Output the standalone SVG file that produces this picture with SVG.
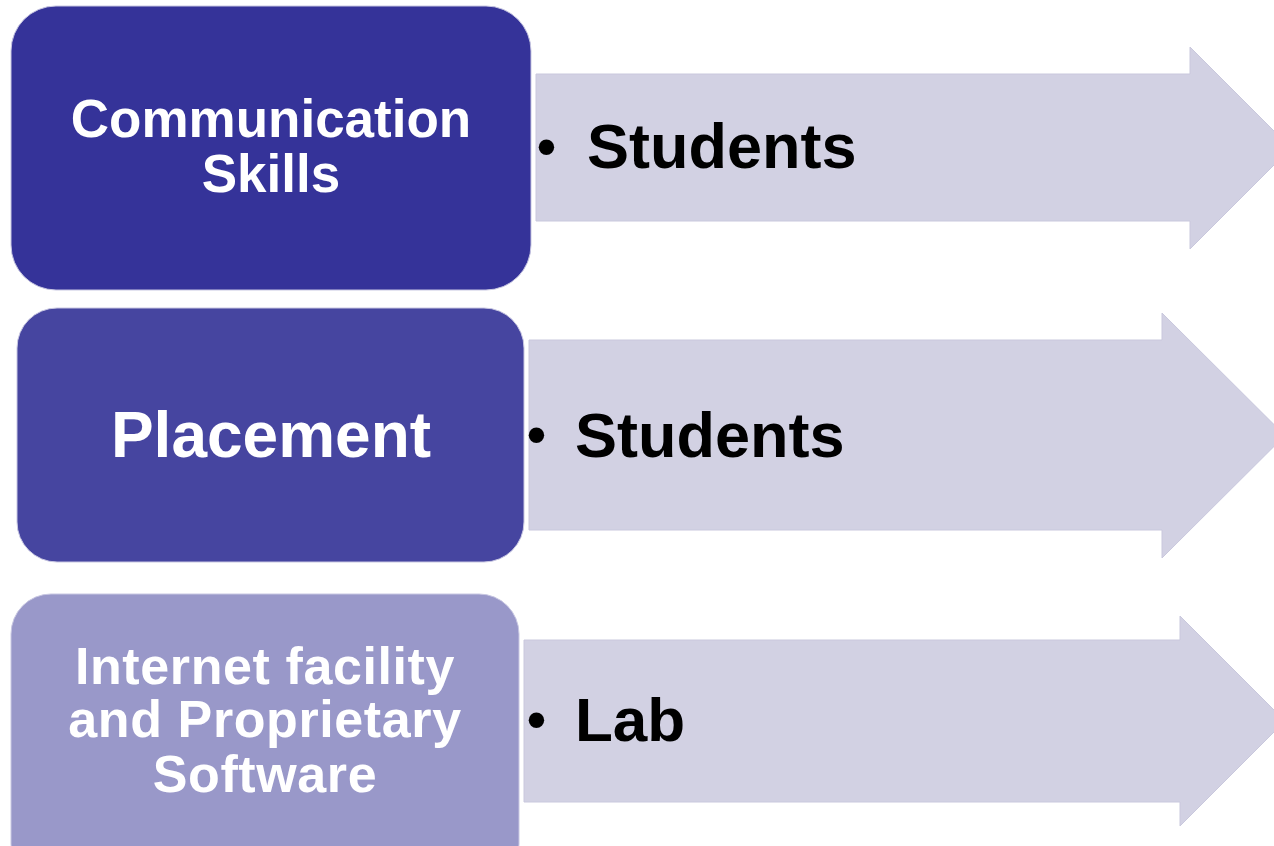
<svg xmlns="http://www.w3.org/2000/svg" width="1274" height="846" viewBox="0 0 1274 846">
<style>
.arrow{fill:#d2d1e3;stroke:#c9c8dd;stroke-width:1}
.box{stroke:#c8c7e2;stroke-width:1}
.lbl{font-family:"Liberation Sans",Arial,sans-serif;font-weight:bold;fill:#ffffff;text-anchor:middle}
.item{font-family:"Liberation Sans",Arial,sans-serif;font-weight:bold;fill:#000000}
.bul{font-family:"Liberation Sans",Arial,sans-serif;font-weight:bold;fill:#000000;font-size:54px}
</style>
<rect width="1274" height="846" fill="#ffffff"/>
<g id="connectors">
<path class="arrow" d="M536,74 H1190 V47 L1291,148 L1190,249 V221 H536 Z"/>
<path class="arrow" d="M529,340 H1162 V313 L1285,435.5 L1162,558 V530 H529 Z"/>
<path class="arrow" d="M524,640 H1180 V616 L1285,721 L1180,826 V802 H524 Z"/>
</g>
<g id="node1">
<rect class="box" x="11" y="6" width="520" height="284" rx="45" fill="#353399"/>
<text class="lbl" x="271" y="137" font-size="53">Communication</text>
<text class="lbl" x="271" y="192" font-size="53">Skills</text>
</g>
<g id="node2">
<rect class="box" x="17" y="308" width="507" height="254" rx="40" fill="#4645a0"/>
<text class="lbl" x="271" y="457" font-size="64">Placement</text>
</g>
<g id="node3">
<rect class="box" x="11" y="594" width="508" height="290" rx="40" fill="#9998c9"/>
<text class="lbl" x="265" y="684" font-size="52" letter-spacing="0.6">Internet facility</text>
<text class="lbl" x="265" y="737" font-size="52" letter-spacing="0.6">and Proprietary</text>
<text class="lbl" x="265" y="792" font-size="52" letter-spacing="0.6">Software</text>
</g>
<g id="item1">
<text class="bul" x="537" y="164.5">•</text>
<text class="item" x="587" y="168" font-size="63">Students</text>
</g>
<g id="item2">
<text class="bul" x="527" y="452.5">•</text>
<text class="item" x="575" y="457" font-size="63">Students</text>
</g>
<g id="item3">
<text class="bul" x="527" y="737.5">•</text>
<text class="item" x="575" y="741" font-size="62">Lab</text>
</g>
</svg>
